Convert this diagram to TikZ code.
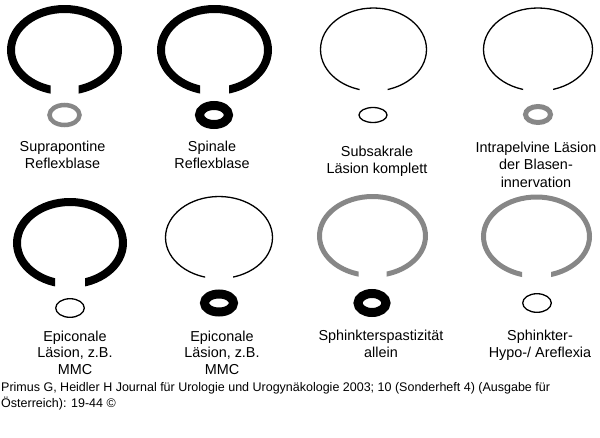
\documentclass[tikz,border=0pt]{standalone}
\usepackage{fontspec}
\setmainfont{Liberation Sans}
\definecolor{bgray}{RGB}{135,135,135}
\newcommand\bladder[6]{%
  \begin{scope}
    \clip ({#1-80},{#2-70}) -- ({#1+80},{#2-70}) -- ({#1+80},{#2+70}) --
          ({#1+#5},{#2+70}) -- ({#1+#5},{#2}) -- ({#1-#5},{#2}) --
          ({#1-#5},{#2+70}) -- ({#1-80},{#2+70}) -- cycle;
    \draw[#6] (#1,#2) ellipse [x radius=#3, y radius=#4];
  \end{scope}}
\begin{document}
\begin{tikzpicture}[x=1pt,y=-1pt,
  thickblk/.style={line width=8pt,draw=black},
  thinblk/.style={line width=1.3pt,draw=black},
  grayline/.style={line width=5pt,draw=bgray},
  ringblk/.style={line width=9pt,draw=black},
  ringgray/.style={line width=4.5pt,draw=bgray},
  lbl/.style={align=center,inner sep=0pt,anchor=base,
    font=\fontsize{14.4pt}{17.5pt}\selectfont},
  lbltwo/.style={lbl,font=\fontsize{14.4pt}{16.7pt}\selectfont},
  captxt/.style={align=left,inner sep=0pt,anchor=base west,
    font=\fontsize{12.5pt}{16pt}\selectfont}]
\useasboundingbox (0,0) rectangle (600,437);
% row 1 bladders
\bladder{64.5}{50}{53.5}{41}{14}{thickblk}
\bladder{214.5}{50}{53.5}{41}{14.5}{thickblk}
\bladder{373.5}{49.5}{53}{41.5}{14}{thinblk}
\bladder{538}{49.5}{54.5}{41.5}{15}{thinblk}
% row 1 sphincters
\draw[ringgray] (64.5,115) ellipse [x radius=15, y radius=10];
\draw[ringblk] (214,115) ellipse [x radius=14.5, y radius=9.5];
\draw[thinblk] (373,115) ellipse [x radius=14, y radius=7.5];
\draw[ringgray,line width=5pt] (538,114.5) ellipse [x radius=12.5, y radius=8];
% row 2 bladders
\bladder{70}{243}{53}{41}{15}{thickblk}
\bladder{219}{237.5}{53.5}{41}{14}{thinblk}
\bladder{372.5}{236}{53}{39.5}{14}{grayline}
\bladder{536.5}{236.5}{53}{39.5}{14.5}{grayline}
% row 2 sphincters
\draw[thinblk] (70,308) ellipse [x radius=14.3, y radius=9.3];
\draw[ringblk] (219,303) ellipse [x radius=14.5, y radius=9];
\draw[ringblk] (372,303) ellipse [x radius=14, y radius=9.5];
\draw[thinblk] (537,303) ellipse [x radius=14.3, y radius=9.3];
% labels (base anchor = baseline of last line)
\node[lbl] (t1) at (62.5,168.5) {Suprapontine\\Reflexblase};
\node[lbl] (t2) at (212,168.5) {Spinale\\Reflexblase};
\node[lbl] (t3) at (377,173.5) {Subsakrale\\Läsion komplett};
\node[lbl] (t4) at (536,187) {Intrapelvine Läsion\\der Blasen-\\innervation};
\node[lbltwo] (t5) at (75,374.4) {Epiconale\\Läsion, z.B.\\MMC};
\node[lbltwo] (t6) at (222,374.4) {Epiconale\\Läsion, z.B.\\MMC};
\node[lbltwo] (t7) at (381,357.2) {Sphinkterspastizität\\allein};
\node[lbltwo] (t8) at (540,357.2) {Sphinkter-\\Hypo-/ Areflexia};
\node[captxt] (c) at (1,407) {Primus G, Heidler H Journal für Urologie und Urogynäkologie 2003; 10 (Sonderheft 4) (Ausgabe für\\Österreich): 19-44 ©};
\end{tikzpicture}
\end{document}
